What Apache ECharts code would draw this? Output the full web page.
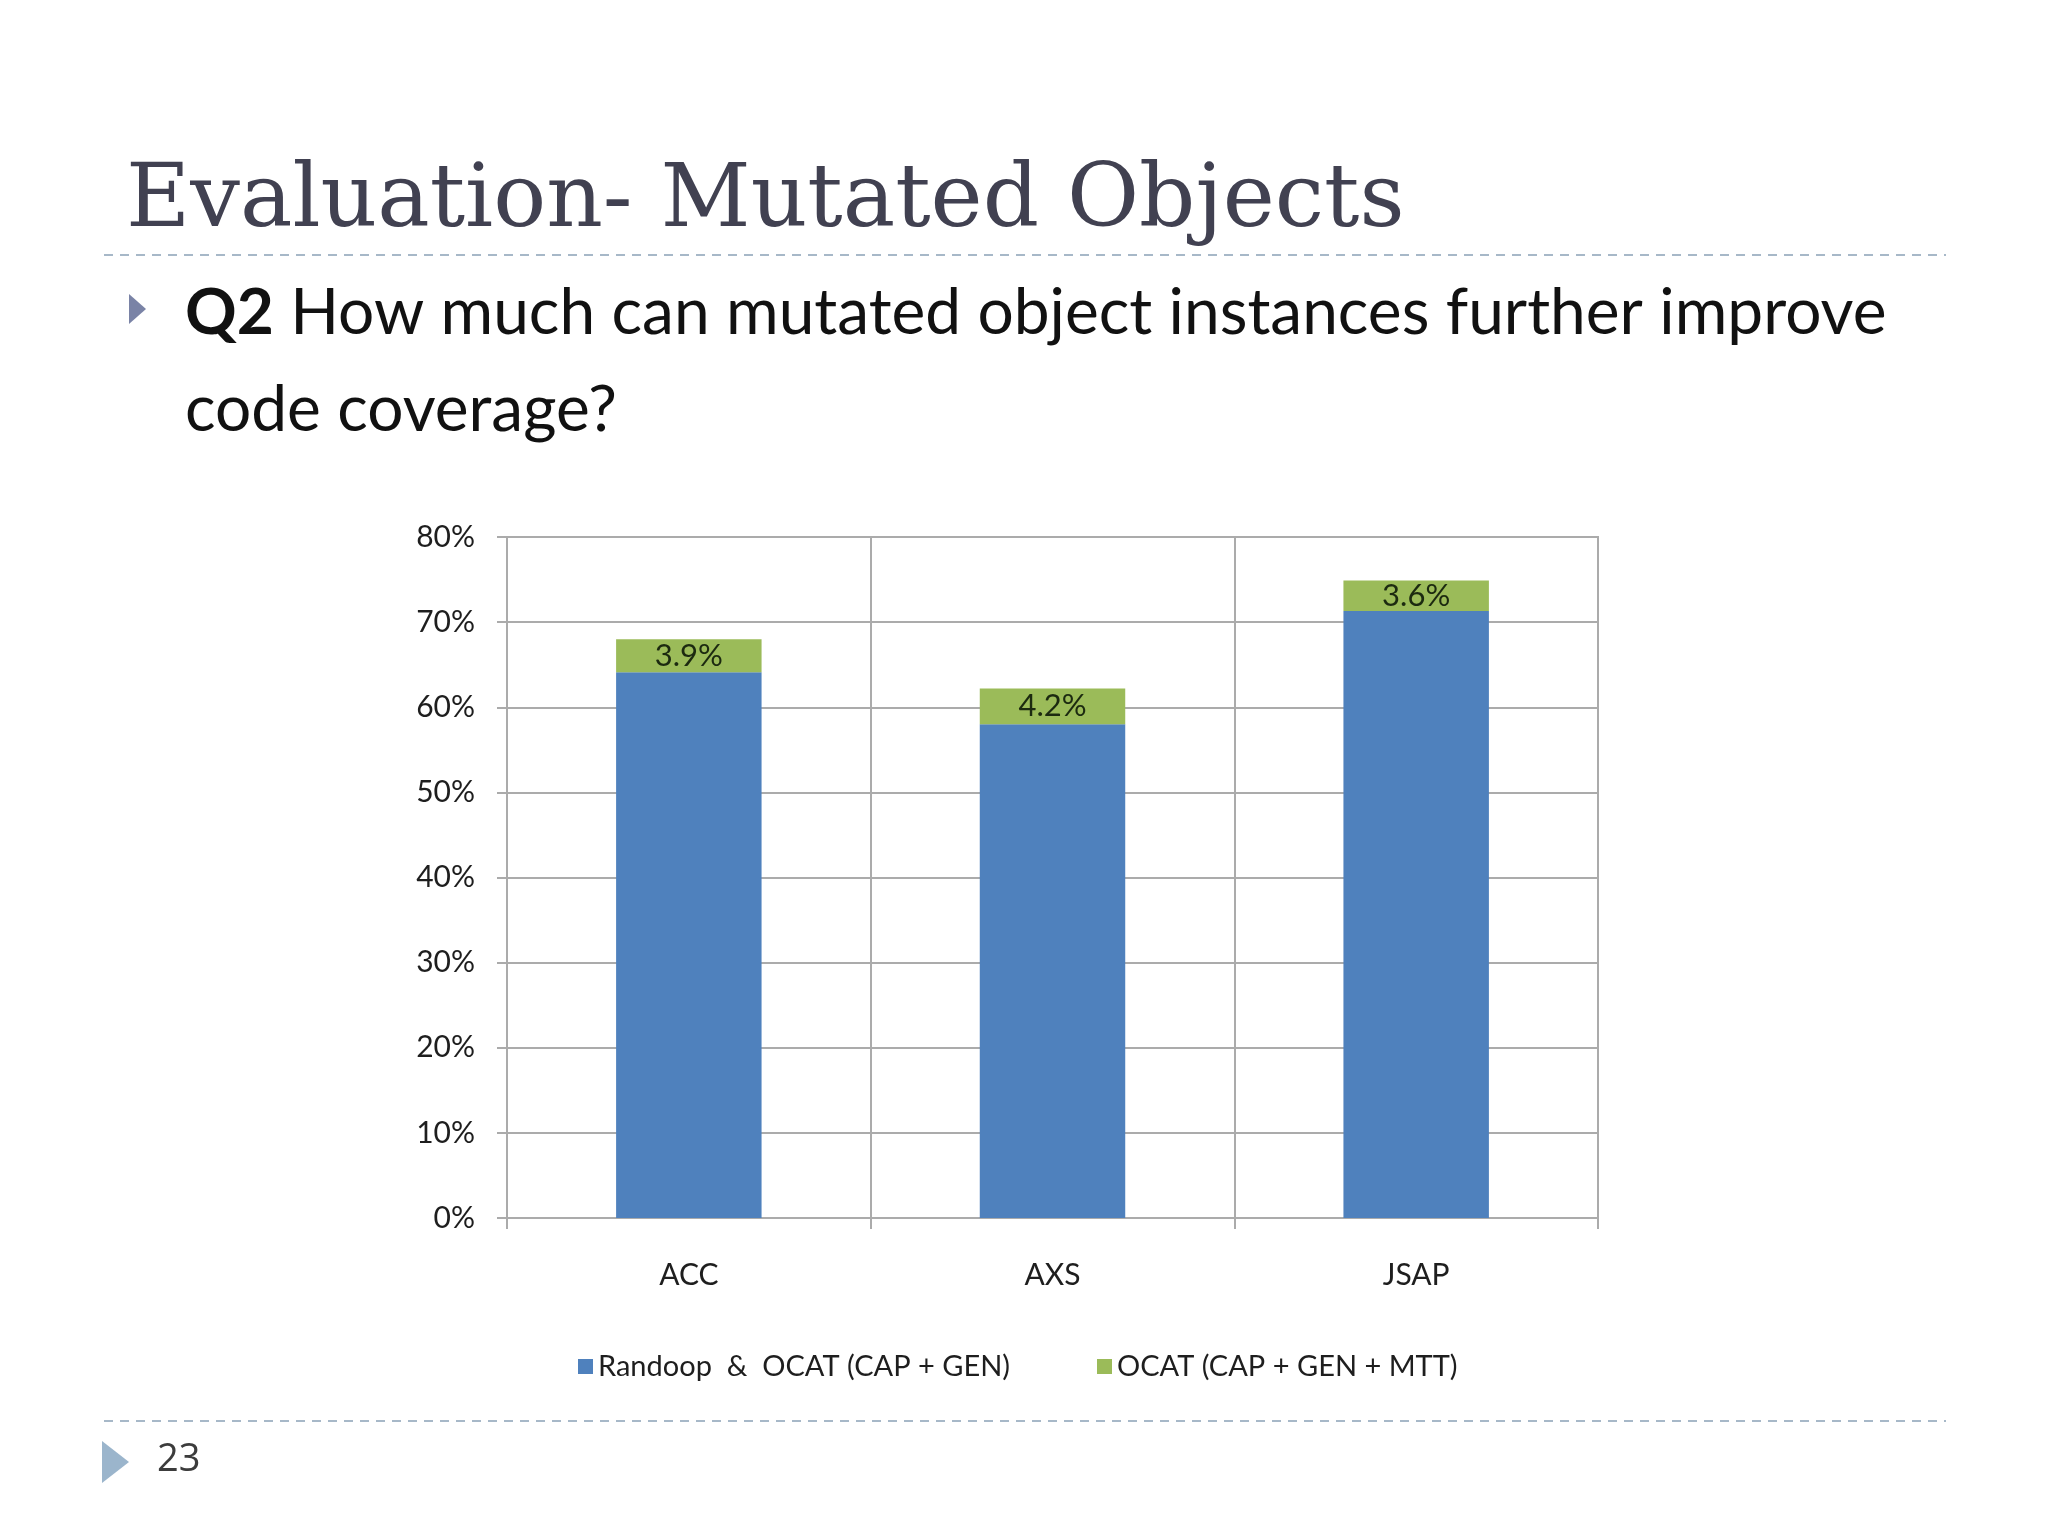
<!DOCTYPE html>
<html>
<head>
<meta charset="utf-8">
<title>Evaluation- Mutated Objects</title>
<script src="https://cdn.jsdelivr.net/npm/echarts@6/dist/echarts.min.js"></script>
<style>
    html, body {
        margin: 0;
        padding: 0;
        background: #ffffff;
    }

    #main {
        width: 2048px;
        height: 1536px;
    }
</style>
</head>
<body>
<div id="main"></div>
<script>
    // data
    var categories = ['ACC', 'AXS', 'JSAP'];
    var baseValues = [64.1, 58.0, 71.3];      // Randoop & OCAT (CAP + GEN)
    var mttGain = [3.9, 4.2, 3.6];            // OCAT (CAP + GEN + MTT)
    var seriesNames = ['Randoop  &  OCAT (CAP + GEN)', 'OCAT (CAP + GEN + MTT)'];
    var yTicks = [0, 10, 20, 30, 40, 50, 60, 70, 80];

    var chartFont = "Lato, 'Liberation Sans', sans-serif";
    var gridColor = '#ababab';

    var myChart = echarts.init(document.getElementById('main'));

    var option = {
        backgroundColor: '#ffffff',
        animation: false,
        title: {
            text: 'Evaluation- Mutated Objects',
            left: 121,
            top: 154,
            textStyle: {
                fontFamily: "'DejaVu Serif', serif",
                fontWeight: 'normal',
                fontSize: 88,
                color: '#414151'
            }
        },
        legend: [{
            data: [seriesNames[0]],
            left: 573,
            top: 1347,
            icon: 'rect',
            itemWidth: 15,
            itemHeight: 15,
            itemGap: 10,
            textStyle: {fontFamily: chartFont, fontSize: 29, color: '#1e1e1e'}
        }, {
            data: [seriesNames[1]],
            left: 1092,
            top: 1347,
            icon: 'rect',
            itemWidth: 15,
            itemHeight: 15,
            textStyle: {fontFamily: chartFont, fontSize: 29, color: '#1e1e1e'}
        }],
        grid: {
            left: 507,
            right: 450,
            top: 537,
            bottom: 318,
            show: true,
            borderColor: gridColor,
            borderWidth: 2
        },
        xAxis: {
            type: 'category',
            data: categories,
            axisLine: {show: true, lineStyle: {color: gridColor, width: 2}},
            axisTick: {show: true, length: 11, lineStyle: {color: gridColor, width: 2}},
            splitLine: {show: true, lineStyle: {color: gridColor, width: 2}},
            axisLabel: {
                margin: 42,
                fontFamily: chartFont,
                fontSize: 30,
                color: '#1e1e1e'
            }
        },
        yAxis: {
            type: 'value',
            min: yTicks[0],
            max: yTicks[yTicks.length - 1],
            interval: 10,
            axisLine: {show: true, lineStyle: {color: gridColor, width: 2}},
            axisTick: {show: true, length: 10, lineStyle: {color: gridColor, width: 2}},
            splitLine: {show: true, lineStyle: {color: gridColor, width: 2}},
            axisLabel: {
                margin: 32,
                formatter: '{value}%',
                fontFamily: chartFont,
                fontSize: 30,
                color: '#1e1e1e'
            }
        },
        series: [{
            name: seriesNames[0],
            type: 'bar',
            stack: 'total',
            barWidth: '40%',
            data: baseValues,
            itemStyle: {color: '#4f81bd'}
        }, {
            name: seriesNames[1],
            type: 'bar',
            stack: 'total',
            barWidth: '40%',
            data: mttGain,
            itemStyle: {color: '#9bbb59'},
            label: {
                show: true,
                position: 'inside',
                formatter: '{c}%',
                fontFamily: chartFont,
                fontSize: 31,
                color: '#1c2a10'
            }
        }],
        graphic: [
            // dashed rules
            {
                type: 'line',
                shape: {x1: 104, y1: 255, x2: 1946, y2: 255},
                style: {stroke: '#a7b8c8', lineWidth: 2, lineDash: [9, 7]}
            },
            {
                type: 'line',
                shape: {x1: 104, y1: 1421, x2: 1946, y2: 1421},
                style: {stroke: '#a7b8c8', lineWidth: 2, lineDash: [9, 7]}
            },
            // bullet
            {
                type: 'polygon',
                shape: {points: [[129, 294], [146, 309], [129, 324]]},
                style: {fill: '#7a83a6'}
            },
            {
                type: 'text',
                left: 185,
                top: 265,
                style: {
                    text: '{b|Q2} How much can mutated object instances further improve\ncode coverage?',
                    fontFamily: "Lato, 'Open Sans', sans-serif",
                    fontSize: 64,
                    lineHeight: 97,
                    fill: '#111111',
                    rich: {
                        b: {
                            fontFamily: "Lato, 'Open Sans', sans-serif",
                            fontSize: 64,
                            fontWeight: 'bold',
                            fill: '#111111'
                        }
                    }
                }
            },
            // page number
            {
                type: 'polygon',
                shape: {points: [[102, 1441], [129, 1462], [102, 1483]]},
                style: {fill: '#9bb5cc'}
            },
            {
                type: 'text',
                left: 157,
                top: 1441,
                style: {
                    text: '23',
                    fontFamily: "'Open Sans', sans-serif",
                    fontSize: 38,
                    fill: '#3c3c3c'
                }
            }
        ]
    };

    myChart.setOption(option);
</script>
</body>
</html>
